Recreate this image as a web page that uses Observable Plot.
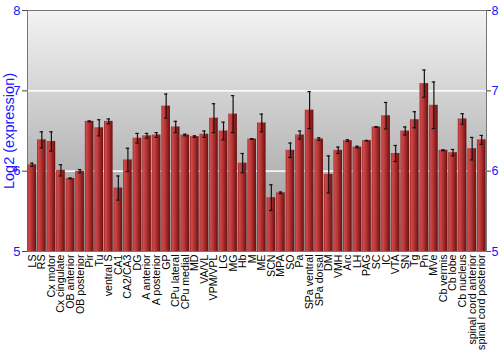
<!DOCTYPE html>
<html><head>
<meta charset="utf-8">
<script src="https://cdn.jsdelivr.net/npm/d3@7"></script>
<script src="https://cdn.jsdelivr.net/npm/@observablehq/plot@0.6"></script>
<style>body{margin:0;background:#fff}</style>
</head><body><div id="chart"></div>
<script>
const regions = ["LS","RS","Cx motor","Cx cingulate","OB anterior","OB posterior","Pir","Tu","ventral S","CA1","CA2/CA3","DG","A anterior","A posterior","GP","CPu lateral","CPu medial","MD","VA/VL","VPM/VPL","LG","MG","Hb","M","ME","SCN","MPA","SO","Pa","SPa ventral","SPa dorsal","DM","VMH","Arc","LH","PAG","SC","IC","VTA","SN","Tg","Pn","MVe","Cb vermis","Cb lobe","Cb nucleus","spinal cord anterior","spinal cord posterior"];
const values = [6.08,6.39,6.37,6.01,5.91,6.00,6.62,6.54,6.62,5.79,6.14,6.41,6.44,6.45,6.81,6.55,6.45,6.43,6.46,6.66,6.50,6.71,6.10,6.40,6.60,5.67,5.73,6.26,6.45,6.76,6.40,5.96,6.26,6.38,6.30,6.38,6.55,6.69,6.22,6.50,6.64,7.09,6.82,6.26,6.23,6.65,6.28,6.39];
const errors = [0.02,0.10,0.12,0.07,0.005,0.02,0.005,0.10,0.03,0.15,0.145,0.06,0.03,0.03,0.15,0.07,0.01,0.01,0.04,0.18,0.11,0.23,0.12,0.005,0.11,0.16,0.01,0.09,0.05,0.23,0.015,0.23,0.04,0.01,0.01,0.003,0.005,0.165,0.10,0.05,0.10,0.17,0.29,0.005,0.04,0.065,0.14,0.055];
const yTicks = [5,6,7,8];
const gridValues = [6,7];
const baseline = 5;
const yTitle = "Log2 (expression)";

const data = regions.map((r,i)=>({region:r, value:values[i], err:errors[i]}));

const W = 500, mL = 27, mR = 14;

const chart = Plot.plot({
  width:W, height:350,
  marginLeft:mL, marginRight:mR, marginTop:10, marginBottom:99,
  style:{fontFamily:"'Liberation Sans', Arial, sans-serif", background:"white"},
  x:{domain:regions, padding:0.1, paddingOuter:0.05, round:false, label:null},
  y:{domain:[5,8], label:null},
  marks:[
    Plot.frame({fill:"url(#bgGrad)", stroke:null}),
    Plot.ruleY(gridValues, {stroke:"white", strokeWidth:1.6, strokeOpacity:0.85}),
    Plot.frame({stroke:"#777", strokeWidth:1}),
    Plot.barY(data, {x:"region", y1:baseline, y2:"value", fill:"url(#barGrad)"}),
    Plot.ruleX(data, {x:"region", y1:d=>d.value-d.err, y2:d=>d.value+d.err, stroke:"#111", strokeWidth:1.2}),
    Plot.tickY(data, {x:"region", y:d=>d.value+d.err, stroke:"#111", strokeWidth:1.2, insetLeft:2.6, insetRight:2.6}),
    Plot.tickY(data, {x:"region", y:d=>d.value-d.err, stroke:"#111", strokeWidth:1.2, insetLeft:2.6, insetRight:2.6}),
    Plot.axisY({anchor:"left", ticks:yTicks, tickFormat:d=>String(d), tickSize:5, tickPadding:2, fontSize:13, fill:"#1515ff", stroke:"#444", label:null}),
    Plot.axisY({anchor:"right", ticks:yTicks, tickFormat:d=>String(d), tickSize:4, tickPadding:1, fontSize:12.5, fill:"#1515ff", stroke:"#444", label:null}),
    Plot.text([yTitle], {frameAnchor:"middle", dx:-((mL + W - mR) / 2 - 9), rotate:-90, fill:"#1515ff", fontSize:14.5}),
    Plot.axisX({tickRotate:-90, tickSize:0, tickPadding:3, fontSize:10.6, fill:"black", label:null})
  ]
});

const defs = document.createElementNS("http://www.w3.org/2000/svg","defs");
defs.innerHTML = `
<linearGradient id="bgGrad" x1="0" y1="0" x2="0" y2="1">
  <stop offset="0%" stop-color="#f3f3f3"/>
  <stop offset="100%" stop-color="#959595"/>
</linearGradient>
<linearGradient id="barGrad" x1="0" y1="0" x2="1" y2="0">
  <stop offset="0%" stop-color="#9a2525"/>
  <stop offset="15%" stop-color="#cc4a4a"/>
  <stop offset="45%" stop-color="#b83535"/>
  <stop offset="100%" stop-color="#6a0f0f"/>
</linearGradient>`;
chart.insertBefore(defs, chart.firstChild);
document.getElementById("chart").appendChild(chart);
</script>
</body></html>
